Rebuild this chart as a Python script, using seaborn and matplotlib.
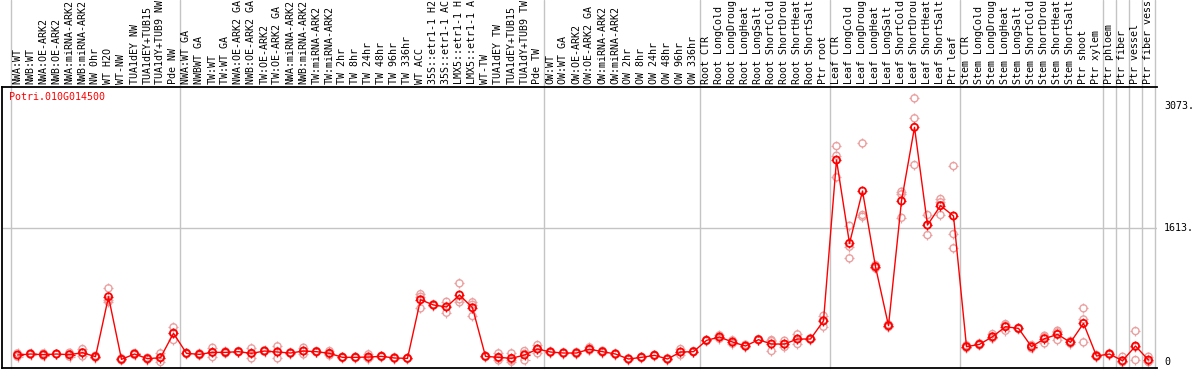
import numpy as np
import pandas as pd
import matplotlib
matplotlib.use("Agg")
import matplotlib.pyplot as plt
import seaborn as sns
from matplotlib.path import Path
from matplotlib import transforms

gene = "Potri.010G014500"

labels = [
    "NWA:WT", "NWB:WT", "NWA:OE-ARK2", "NWB:OE-ARK2", "NWA:miRNA-ARK2", "NWB:miRNA-ARK2",
    "NW 0hr", "WT H2O", "WT-NW", "TUA1dEY NW", "TUA1dEY+TUB15", "TUA1dY+TUB9 NW", "Pde NW",
    "NWA:WT GA", "NWBWT GA", "TW:WT", "TW:WT GA", "NWA:OE-ARK2 GA", "NWB:OE-ARK2 GA",
    "TW:OE-ARK2", "TW:OE-ARK2 GA", "NWA:miRNA-ARK2", "NWB:miRNA-ARK2", "TW:miRNA-ARK2",
    "TW:miRNA-ARK2", "TW 2hr", "TW 8hr", "TW 24hr", "TW 48hr", "TW 96hr", "TW 336hr",
    "WT ACC", "35S::etr1-1 H2", "35S::etr1-1 AC", "LMX5::etr1-1 H", "LMX5::etr1-1 A",
    "WT-TW", "TUA1dEY TW", "TUA1dEY+TUB15", "TUA1dY+TUB9 TW", "Pde TW",
    "OW:WT", "OW:WT GA", "OW:OE-ARK2", "OW:OE-ARK2 GA", "OW:miRNA-ARK2", "OW:miRNA-ARK2",
    "OW 2hr", "OW 8hr", "OW 24hr", "OW 48hr", "OW 96hr", "OW 336hr",
    "Root CTR", "Root LongCold", "Root LongDroug", "Root LongHeat", "Root LongSalt",
    "Root ShortCold", "Root ShortDrou", "Root ShortHeat", "Root ShortSalt", "Ptr root",
    "Leaf CTR", "Leaf LongCold", "Leaf LongDroug", "Leaf LongHeat", "Leaf LongSalt",
    "Leaf ShortCold", "Leaf ShortDrou", "Leaf ShortHeat", "Leaf ShortSalt", "Ptr leaf",
    "Stem CTR", "Stem LongCold", "Stem LongDroug", "Stem LongHeat", "Stem LongSalt",
    "Stem ShortCold", "Stem ShortDrou", "Stem ShortHeat", "Stem ShortSalt", "Ptr shoot",
    "Ptr xylem", "Ptr phloem", "Ptr fiber", "Ptr vessel", "Ptr fiber vess",
]

# group sizes (vertical separators)
group_sizes = [13, 28, 12, 10, 10, 11, 1, 1, 1, 1]

means = [
    84, 96, 88, 96, 88, 112, 64, 784, 32, 96, 40, 52, 345,
    104, 92, 116, 116, 124, 104, 132, 120, 108, 132, 124, 104,
    56, 56, 60, 68, 48, 44, 748, 685, 661, 805, 652, 68, 56, 44, 84, 156,
    120, 108, 108, 154, 124, 96, 36, 56, 80, 36, 120, 124,
    260, 300, 240, 192, 268, 216, 216, 276, 276, 494,
    2426, 1425, 2054, 1145, 436, 1934, 2819, 1645, 1878, 1754,
    184, 212, 304, 424, 404, 184, 280, 332, 236, 464, 72,
    96, 15, 192, 24,
]

rep_a = [
    84, 96, 88, 96, 88, 156, 64, 885, 32, 96, 40, 104, 417,
    104, 92, 172, 116, 124, 164, 132, 188, 108, 132, 124, 132,
    56, 56, 92, 68, 48, 44, 784, 685, 724, 945, 717, 68, 104, 104, 132, 204,
    120, 108, 108, 176, 124, 96, 36, 56, 80, 36, 120, 124,
    260, 300, 240, 192, 268, 264, 256, 332, 276, 556,
    2594, 1637, 2626, 1145, 436, 2046, 3167, 1766, 1958, 2354,
    184, 212, 336, 376, 404, 184, 224, 376, 236, 645, 72,
    96, 64, 372, 64,
]
rep_b = [
    64, 88, 72, 92, 64, 68, 52, 745, 20, 84, 28, 0, 264,
    96, 80, 60, 104, 116, 44, 124, 44, 100, 92, 116, 80,
    48, 48, 40, 60, 40, 40, 645, 677, 592, 717, 552, 60, 20, 4, 20, 104,
    112, 100, 96, 140, 112, 88, 28, 48, 72, 28, 84, 116,
    252, 320, 220, 184, 260, 132, 180, 216, 268, 424,
    2478, 1385, 1766, 1125, 420, 2014, 2927, 1525, 1766, 1537,
    168, 200, 288, 440, 396, 164, 300, 264, 220, 236, 60,
    88, 0, 24, 0,
]
rep_c = [
    104, 104, 104, 100, 112, 112, 76, 722, 44, 108, 52, 52, 354,
    112, 104, 116, 128, 132, 104, 140, 128, 116, 172, 132, 100,
    64, 64, 48, 76, 56, 48, 815, 693, 667, 753, 687, 76, 44, 24, 100, 160,
    128, 116, 120, 146, 136, 104, 44, 64, 88, 44, 156, 132,
    268, 280, 260, 208, 276, 252, 212, 280, 284, 502,
    2218, 1245, 1745, 1165, 452, 1733, 2366, 1644, 1918, 1366,
    200, 224, 288, 456, 412, 204, 316, 356, 252, 511, 84,
    104, 0, 180, 8,
]

y_ticks = [0, 1613, 3073]
y_tick_labels = ["0", "1613.", "3073."]

W, H = 1194, 370
RED = "#ff0000"
PINK = "#eba0a0"
GREY = "#c4c4c4"
MONO = "DejaVu Sans Mono"
FS = 7.2

sns.set_style("white")

df = pd.DataFrame({"col": np.arange(len(labels)), "label": labels, "mean": means})
reps = pd.DataFrame({"col": np.tile(df["col"].values, 3),
                     "value": rep_a + rep_b + rep_c})

fig = plt.figure(figsize=(W / 100, H / 100), dpi=100)
ax = fig.add_axes([2 / W, 1 - 368 / H, (1157 - 2) / W, (368 - 87) / H])
ax.set_xlim((2 - 17.5) / 13, (1157 - 17.5) / 13)
ax.set_ylim(-72, 3303)

# group separators run through the label strip too
edges = np.cumsum([0] + group_sizes) - 0.5
top_frac = 368 / (368 - 87)
for e in edges:
    ax.axvline(e, 0, top_frac, color=GREY, lw=1, clip_on=False, zorder=0)
ax.axhline(1613, color=GREY, lw=1, zorder=0)

# little tick marks around each circle
tick = Path([(0, 0.6), (0, 1), (0, -0.6), (0, -1), (0.6, 0), (1, 0), (-0.6, 0), (-1, 0)],
            [Path.MOVETO, Path.LINETO] * 4)

# replicates
ax.scatter(reps["col"], reps["value"], marker=tick, s=58, color=PINK, lw=0.9, zorder=1)
sns.scatterplot(data=reps, x="col", y="value", ax=ax, marker="o", s=26,
                facecolor="none", edgecolor=PINK, linewidth=1.0, zorder=2, legend=False)

# mean line
sns.lineplot(data=df, x="col", y="mean", ax=ax, color=RED, lw=1.0, zorder=3)
ax.scatter(df["col"], df["mean"], marker=tick, s=58, color=RED, lw=0.9, zorder=4)
sns.scatterplot(data=df, x="col", y="mean", ax=ax, marker="o", s=26,
                facecolor="none", edgecolor=RED, linewidth=1.3, zorder=5, legend=False)

ax.set_xticks([])
ax.set_yticks([])
ax.set_xlabel("")
ax.set_ylabel("")
for side in ["left", "bottom", "top"]:
    ax.spines[side].set_color("black")
    ax.spines[side].set_linewidth(1.3)
ax.spines["right"].set_visible(False)

# sample labels along the top
trans = transforms.blended_transform_factory(ax.transData, fig.transFigure)
for i, lab in enumerate(labels):
    ax.text(i, 1 - 84 / H, lab, rotation=90, ha="center", va="bottom", color="black",
            fontsize=FS, family=MONO, transform=trans, clip_on=False)

# value labels on the right
trans_r = transforms.blended_transform_factory(fig.transFigure, ax.transData)
for v, t in zip(y_ticks, y_tick_labels):
    ax.text(1164 / W, v, t, ha="left", va="center", color="black", fontsize=FS,
            family=MONO, transform=trans_r, clip_on=False)

fig.text(9 / W, 1 - 97 / H, gene, color=RED, ha="left", va="center",
         fontsize=FS, family=MONO)

fig.savefig("out.png", dpi=100)
